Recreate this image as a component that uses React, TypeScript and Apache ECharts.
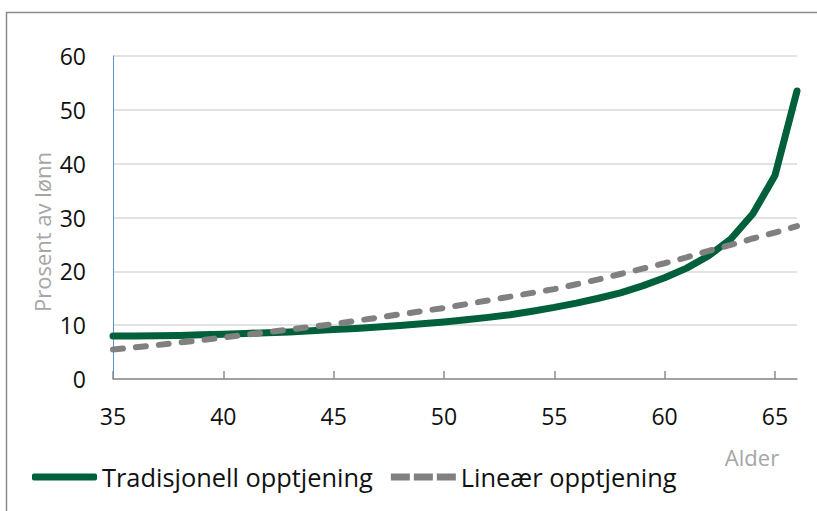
import React, { useEffect, useRef } from "react";
import * as echarts from "echarts";

const ages = [35,36,37,38,39,40,41,42,43,44,45,46,47,48,49,50,51,52,53,54,55,56,57,58,59,60,61,62,63,64,65,66];
const tradisjonell = [8.0,8.0,8.05,8.1,8.2,8.3,8.45,8.6,8.75,8.95,9.2,9.4,9.65,9.95,10.25,10.6,11.0,11.45,11.95,12.6,13.3,14.1,15.0,16.0,17.3,18.8,20.6,22.9,26.0,30.7,37.8,53.5];
const linear = [5.5,5.9,6.3,6.8,7.2,7.7,8.2,8.7,9.2,9.7,10.2,10.8,11.4,12.0,12.6,13.2,13.9,14.6,15.3,16.0,16.7,17.6,18.5,19.5,20.5,21.5,22.6,23.8,24.9,26.1,27.2,28.4];
const xTicks = [35,40,45,50,55,60,65];
const seriesNames = ["Tradisjonell opptjening", "Lineær opptjening"];
const yTitle = "Prosent av lønn";
const xTitle = "Alder";

const FONT = "'Open Sans', sans-serif";
const GREEN = "#00603c";
const GRAY = "#808080";

export default function App() {
  const ref = useRef<HTMLDivElement>(null);
  useEffect(() => {
    if (!ref.current) return;
    const chart = echarts.init(ref.current, undefined, { renderer: "svg" });
    chart.setOption({
      animation: false,
      backgroundColor: "#ffffff",
      textStyle: { fontFamily: FONT },
      grid: { left: 113, top: 56, right: 20, bottom: 132, containLabel: false },
      xAxis: {
        type: "value",
        min: 35,
        max: 66,
        interval: 5,
        axisLine: { show: true, lineStyle: { color: "#8c8c8c", width: 1.5 } },
        axisTick: { show: true, inside: true, length: 8, customValues: xTicks, lineStyle: { color: "#8c8c8c", width: 1.5 } },
        axisLabel: { customValues: xTicks, margin: 25, fontSize: 23, color: "#111111", fontFamily: FONT },
        splitLine: { show: false },
      },
      yAxis: {
        type: "value",
        min: 0,
        max: 60,
        interval: 10,
        axisLine: { show: true, lineStyle: { color: "#5b8fd4", width: 1 } },
        axisTick: { show: false },
        axisLabel: { margin: 27, fontSize: 23, color: "#111111", fontFamily: FONT },
        splitLine: { show: true, lineStyle: { color: "#d9d9d9", width: 1.5 } },
      },
      legend: {
        left: 32,
        top: 464,
        padding: 0,
        itemWidth: 65,
        itemHeight: 7,
        itemGap: 18,
        symbolKeepAspect: false,
        textStyle: { fontSize: 25.4, lineHeight: 26, color: "#111111", fontFamily: FONT },
        data: [
          { name: seriesNames[0], icon: "roundRect", itemStyle: { color: GREEN } },
          { name: seriesNames[1], icon: "path://M0,0h19v7h-19z M23,0h19v7h-19z M46,0h19v7h-19z", itemStyle: { color: GRAY } },
        ],
      },
      graphic: [
        { type: "rect", silent: true, shape: { x: 6.5, y: 12.5, width: 900, height: 700 }, style: { fill: "none", stroke: "#8a8a8a", lineWidth: 1.5 } },
        { type: "text", x: 42, y: 232, rotation: Math.PI / 2, style: { text: yTitle, fontSize: 22, fill: "#a6a6a6", fontFamily: FONT, align: "center", verticalAlign: "middle" } },
        { type: "text", x: 752, y: 457, style: { text: xTitle, fontSize: 22, fill: "#a6a6a6", fontFamily: FONT, align: "center", verticalAlign: "middle" } },
      ],
      series: [
        {
          name: seriesNames[0],
          type: "line",
          data: ages.map((a, i) => [a, tradisjonell[i]]),
          symbol: "none",
          lineStyle: { color: GREEN, width: 7, cap: "round", join: "round" },
          itemStyle: { color: GREEN },
          z: 3,
        },
        {
          name: seriesNames[1],
          type: "line",
          data: ages.map((a, i) => [a, linear[i]]),
          symbol: "none",
          lineStyle: { color: GRAY, width: 6, type: [10, 13], cap: "round" },
          itemStyle: { color: GRAY },
          z: 4,
        },
      ],
    });
    return () => chart.dispose();
  }, []);
  return <div ref={ref} style={{ position: "fixed", left: 0, top: 0, width: 817, height: 511 }} />;
}
